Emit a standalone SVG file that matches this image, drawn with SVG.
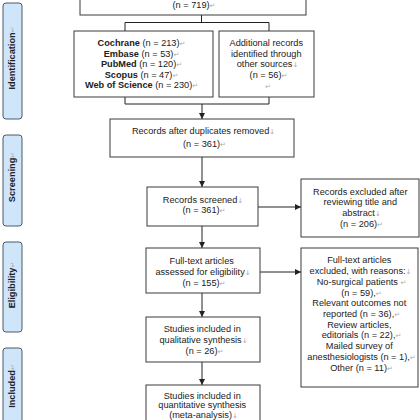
<svg xmlns="http://www.w3.org/2000/svg" width="420" height="420" viewBox="0 0 420 420">
<defs>
<style>
.box{fill:#ffffff;stroke:#3a3a3a;stroke-width:1}
.side{fill:#cfe6fa;stroke:#4a5968;stroke-width:1}
.t{font-family:"Liberation Sans",Arial,sans-serif;font-size:9.2px;fill:#222;text-anchor:middle}
.s{font-family:"Liberation Sans",Arial,sans-serif;font-size:9.2px;font-weight:bold;fill:#222;text-anchor:middle}
.b{font-weight:bold}
.m{fill:#aaa;font-size:7px;font-family:"DejaVu Sans","Liberation Sans",sans-serif;font-weight:normal}
.c{fill:none;stroke:#222;stroke-width:1}
</style>
<marker id="ah" markerUnits="userSpaceOnUse" markerWidth="6" markerHeight="6" refX="6" refY="3" orient="auto">
<path d="M0,0 L6,3 L0,6 z" fill="#222"/>
</marker>
</defs>
<rect width="420" height="420" fill="#ffffff"/>

<g id="side-identification">
<rect class="side" x="3" y="3" width="19" height="116" rx="3"/>
<text class="s" transform="translate(14.5,58) rotate(-90)">Identification<tspan class="m">↵</tspan></text>
</g>
<g id="side-screening">
<rect class="side" x="3" y="135" width="19" height="91" rx="3"/>
<text class="s" transform="translate(14.5,177) rotate(-90)">Screening<tspan class="m">↵</tspan></text>
</g>
<g id="side-eligibility">
<rect class="side" x="3" y="242" width="19" height="90" rx="3"/>
<text class="s" transform="translate(14.5,285) rotate(-90)">Eligibility<tspan class="m">↵</tspan></text>
</g>
<g id="side-included">
<rect class="side" x="3" y="348" width="19" height="90" rx="3"/>
<text class="s" transform="translate(14.5,386) rotate(-90)">Included<tspan class="m">↵</tspan></text>
</g>

<g id="connectors">
<path class="c" d="M201.5,15 V22.5 M125,31 V22.5 H269 V31"/>
<path class="c" d="M125,97 V104 H269 V97"/>
<path class="c" d="M202,104 V119" marker-end="url(#ah)"/>
<path class="c" d="M202,157 V187" marker-end="url(#ah)"/>
<path class="c" d="M202,226 V248" marker-end="url(#ah)"/>
<path class="c" d="M258,207 H301" marker-end="url(#ah)"/>
<path class="c" d="M202,293 V317" marker-end="url(#ah)"/>
<path class="c" d="M260,272 H301" marker-end="url(#ah)"/>
<path class="c" d="M202,362 V385" marker-end="url(#ah)"/>
</g>

<g id="node-total">
<rect class="box" x="80" y="-10" width="226" height="25"/>
<text class="t" x="194" y="8">(n = 719)<tspan class="m">↵</tspan></text>
</g>

<g id="node-databases">
<rect class="box" x="74" y="31" width="139" height="66"/>
<text class="t" x="141.5" y="46"><tspan class="b">Cochrane</tspan> (n = 213)<tspan class="m">↵</tspan></text>
<text class="t" x="141.5" y="56.6"><tspan class="b">Embase</tspan> (n = 53)<tspan class="m">↵</tspan></text>
<text class="t" x="141.5" y="67.2"><tspan class="b">PubMed</tspan> (n = 120)<tspan class="m">↵</tspan></text>
<text class="t" x="141.5" y="77.7"><tspan class="b">Scopus</tspan> (n = 47)<tspan class="m">↵</tspan></text>
<text class="t" x="141.5" y="88.3"><tspan class="b">Web of Science</tspan> (n = 230)<tspan class="m">↵</tspan></text>
</g>

<g id="node-additional">
<rect class="box" x="219" y="31" width="95" height="66"/>
<text class="t" x="266.3" y="46">Additional records</text>
<text class="t" x="266.3" y="56.6">identified through</text>
<text class="t" x="267.5" y="67.3">other sources<tspan class="m">↓</tspan></text>
<text class="t" x="268.5" y="78">(n = 56)<tspan class="m">↵</tspan></text>
<text class="t" x="268" y="88.5"><tspan class="m">↵</tspan></text>
</g>

<g id="node-duplicates">
<rect class="box" x="110" y="119" width="184" height="38"/>
<text class="t" x="203.5" y="134">Records after duplicates removed<tspan class="m">↓</tspan></text>
<text class="t" x="204.5" y="146.6">(n = 361)<tspan class="m">↵</tspan></text>
</g>

<g id="node-screened">
<rect class="box" x="147" y="187" width="111" height="39"/>
<text class="t" x="203" y="202.6">Records screened<tspan class="m">↓</tspan></text>
<text class="t" x="204" y="213.3">(n = 361)<tspan class="m">↵</tspan></text>
</g>

<g id="node-excluded-screening">
<rect class="box" x="301" y="179" width="118" height="58"/>
<text class="t" x="360.3" y="195">Records excluded after</text>
<text class="t" x="360.3" y="205.2">reviewing title and</text>
<text class="t" x="361.5" y="215.7">abstract<tspan class="m">↓</tspan></text>
<text class="t" x="361.5" y="226.6">(n = 206)<tspan class="m">↵</tspan></text>
</g>

<g id="node-fulltext">
<rect class="box" x="146" y="248" width="114" height="45"/>
<text class="t" x="201.7" y="263.6">Full-text articles</text>
<text class="t" x="203" y="275">assessed for eligibility<tspan class="m">↓</tspan></text>
<text class="t" x="204" y="285.6">(n = 155)<tspan class="m">↵</tspan></text>
</g>

<g id="node-excluded-fulltext">
<rect class="box" x="301" y="248" width="117" height="139"/>
<text class="t" x="359.3" y="263.3">Full-text articles</text>
<text class="t" x="360.5" y="274">excluded, with reasons:<tspan class="m">↓</tspan></text>
<text class="t" x="361.5" y="284.8">No-surgical patients <tspan class="m">↵</tspan></text>
<text class="t" x="361.5" y="295.5">(n = 59),<tspan class="m">↵</tspan></text>
<text class="t" x="359.3" y="306.2">Relevant outcomes not</text>
<text class="t" x="361.5" y="316.9">reported (n = 36),<tspan class="m">↵</tspan></text>
<text class="t" x="359.3" y="327.6">Review articles,</text>
<text class="t" x="361.5" y="338.4">editorials (n = 22),<tspan class="m">↵</tspan></text>
<text class="t" x="359.3" y="349.1">Mailed survey of</text>
<text class="t" x="361.5" y="359.8">anesthesiologists (n = 1),<tspan class="m">↵</tspan></text>
<text class="t" x="361.5" y="370.5">Other (n = 11)<tspan class="m">↵</tspan></text>
</g>

<g id="node-qualitative">
<rect class="box" x="146" y="317" width="114" height="45"/>
<text class="t" x="202.2" y="332.4">Studies included in</text>
<text class="t" x="203.5" y="343.3">qualitative synthesis<tspan class="m">↓</tspan></text>
<text class="t" x="204.5" y="353.6">(n = 26)<tspan class="m">↵</tspan></text>
</g>

<g id="node-quantitative">
<rect class="box" x="146" y="385" width="114" height="50"/>
<text class="t" x="202.2" y="398.6">Studies included in</text>
<text class="t" x="202.2" y="408.2">quantitative synthesis</text>
<text class="t" x="203.5" y="417.6">(meta-analysis)<tspan class="m">↓</tspan></text>
</g>
</svg>
